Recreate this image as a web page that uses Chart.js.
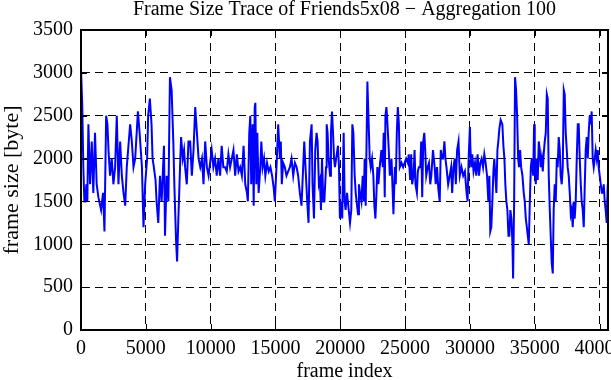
<!DOCTYPE html>
<html lang="en">
<head>
    <meta charset="UTF-8">
    <title>Frame Size Trace of Friends5x08</title>
    <script src="https://cdn.jsdelivr.net/npm/chart.js"></script>
    <style>
        html, body { margin: 0; padding: 0; background: #fff; }
        #wrap { width: 611px; height: 380px; }
    </style>
</head>
<body>
<div id="wrap"><canvas id="traceChart" width="611" height="380"></canvas></div>
<script>
    // [frame index, frame size in byte], one list per 5000 frames
    var seg0 = [[0,3050],[100,2600],[180,1900],[260,1500],[340,1500],[410,1700],[490,1500],[570,2400],[700,1700],[830,2200],[950,1600],[1080,2300],[1210,1700],[1340,1550],[1550,1400],[1700,1600],[1810,1150],[1940,2500],[2040,2400],[2120,2100],[2240,1800],[2370,2000],[2500,1700],[2630,1900],[2760,2500],[2890,1700],[3020,2200],[3150,1800],[3280,1600],[3410,1450],[3530,1900],[3660,2150],[3790,2400],[3920,2200],[4050,1900],[4180,2000],[4390,2550],[4520,2300],[4700,1900],[4820,1200],[4950,1700]];
    var seg1 = [[5100,2000],[5180,2500],[5310,2700],[5440,2400],[5520,2000],[5620,1900],[5750,1750],[5830,1500],[5960,1250],[6090,1800],[6220,1500],[6400,2150],[6480,1100],[6610,1800],[6740,1500],[6860,2950],[6990,2800],[7120,2200],[7200,1700],[7330,1050],[7410,800],[7510,1300],[7640,1900],[7720,2250],[7850,2000],[7950,2100],[8030,1900],[8160,1700],[8290,2200],[8420,2200],[8550,1800],[8680,2100],[8810,2600],[8940,2300],[9070,2000],[9200,1900],[9330,2000],[9450,1700],[9580,2200],[9710,1900],[9840,1800]];
    var seg2 = [[10080,2100],[10210,1900],[10340,2000],[10470,1800],[10600,2000],[10730,1800],[10850,2150],[10980,1900],[11110,1900],[11240,1850],[11370,2050],[11500,1900],[11630,2000],[11760,2100],[11890,1800],[12020,2050],[12150,1850],[12280,1900],[12410,1800],[12540,2150],[12670,1700],[12800,1600],[12870,1500],[12980,2300],[13060,2500],[13130,1700],[13240,2400],[13320,1450],[13400,2600],[13450,2650],[13520,1700],[13600,2300],[13700,1600],[13830,1900],[13910,2200],[14010,1900],[14120,2000],[14220,1800],[14350,1950],[14480,1850],[14610,1900],[14740,1800],[14870,1650],[14950,1500]];
    var seg3 = [[15080,1900],[15210,2400],[15340,2000],[15410,2200],[15490,1700],[15590,1950],[15720,1900],[15850,1800],[15980,1850],[16110,1900],[16240,2000],[16370,1800],[16500,1950],[16630,1900],[16750,1800],[16880,1600],[17010,1450],[17220,2200],[17350,1800],[17450,1500],[17550,1250],[17660,2200],[17790,2400],[17860,1700],[17970,1300],[18070,2100],[18170,2300],[18250,2200],[18350,1700],[18430,1750],[18510,1400],[18590,2000],[18690,1500],[18770,1500],[18900,1900],[18950,2400],[19020,2300],[19100,2000],[19210,1800],[19280,2300],[19360,2550],[19440,2300],[19520,2000],[19590,1900]];
    var seg4 = [[19820,2150],[19900,1900],[19970,1300],[20080,1500],[20150,1300],[20260,2300],[20340,1500],[20410,1400],[20520,1600],[20650,1400],[20750,1250],[20850,1400],[20930,2400],[21010,2300],[21110,1800],[21190,1600],[21260,1500],[21370,1350],[21440,1700],[21520,1600],[21630,1500],[21730,1800],[21810,1500],[21880,2000],[21960,1450],[22090,2900],[22190,2400],[22270,2000],[22350,1900],[22450,2000],[22550,1800],[22630,1450],[22710,1300],[22790,1600],[22860,1900],[22940,1700],[23040,1900],[23170,2100],[23280,1900],[23350,2300],[23430,1550],[23480,2500],[23560,2600],[23640,2400],[23740,2100],[23820,1800],[23950,2000],[24020,1700],[24100,1350],[24210,1900],[24280,1700],[24360,2300],[24440,2600],[24520,2400],[24590,1900],[24720,1950],[24850,1900]];
    var seg5 = [[25080,2000],[25210,1950],[25280,2050],[25390,1750],[25470,2050],[25540,1700],[25650,1800],[25730,2100],[25800,1700],[25910,1600],[25980,1850],[26060,1900],[26170,1900],[26240,2200],[26320,1550],[26400,2200],[26480,2300],[26550,2100],[26630,1800],[26740,1900],[26840,1950],[26940,1700],[27020,1800],[27150,2100],[27280,1900],[27360,1700],[27460,1900],[27560,1650],[27670,1500],[27750,2100],[27850,2000],[27930,2000],[28030,2200],[28110,2000],[28190,1900],[28320,1700],[28440,1800],[28550,1900],[28630,1600],[28730,1900],[28830,2000],[28910,1700],[29010,2100],[29120,2200],[29220,1800],[29350,1900],[29480,1800],[29610,1850],[29740,1600],[29820,1500],[29900,2000],[30000,2370]];
    var seg6 = [[30030,2150],[30100,1900],[30180,2050],[30280,1850],[30390,1950],[30490,1800],[30590,2050],[30700,1800],[30800,1950],[30900,2000],[31010,1900],[31110,2050],[31210,1950],[31320,1800],[31420,1500],[31500,1800],[31570,1150],[31650,1200],[31730,1500],[31810,1850],[31880,2000],[31960,1800],[32040,1600],[32120,2100],[32190,2200],[32270,2350],[32370,2450],[32500,2400],[32580,2150],[32660,2000],[32730,1700],[32810,1500],[32890,1400],[32970,1100],[33040,1100],[33120,1400],[33200,1300],[33280,1000],[33330,600],[33410,1500],[33480,2950],[33560,2800],[33640,2500],[33720,2000],[33790,1900],[33870,2100],[33950,1900],[34050,1800],[34150,1600],[34230,1500],[34310,1300],[34390,1200],[34460,1100],[34540,1000],[34620,1500],[34700,1900],[34770,2000],[34880,1800],[34950,2400]];
    var seg7 = [[35000,1900],[35080,1700],[35150,2000],[35230,1750],[35310,2200],[35390,2100],[35460,1900],[35540,2000],[35620,1850],[35690,2050],[35770,2200],[35850,2300],[35930,2750],[36000,2700],[36080,1800],[36160,1400],[36230,1100],[36310,780],[36390,660],[36460,1400],[36540,1700],[36620,1500],[36700,2000],[36770,1900],[36850,2250],[36930,2100],[37000,1800],[37080,1700],[37160,1900],[37240,2800],[37310,2750],[37390,2300],[37470,2100],[37540,1900],[37620,1800],[37700,1600],[37780,1350],[37850,1400],[37930,1200],[38010,1500],[38080,1300],[38160,1500],[38240,2000],[38320,2400],[38390,2400],[38470,2000],[38550,1700],[38620,1500],[38700,1400],[38780,1200],[38860,1700],[38930,2100],[39010,2250],[39090,2000],[39160,2300],[39240,2500],[39320,2400],[39390,2550],[39470,2000],[39550,1900],[39630,2000],[39700,2100],[39780,2000],[39860,2100],[39930,1900],[40010,1800],[40090,1700],[40170,1600],[40240,1600],[40320,1700],[40400,1500],[40470,1400],[40550,1250],[40630,1700]];

    var xMax = 40650;
    var xTicks = [0, 5000, 10000, 15000, 20000, 25000, 30000, 35000, 40000];
    var yTicks = [0, 500, 1000, 1500, 2000, 2500, 3000, 3500];

    var trace = [].concat(seg0, seg1, seg2, seg3, seg4, seg5, seg6, seg7)
        .map(function (p) { return { x: p[0], y: p[1] }; });

    var serif = 'Liberation Serif, Times New Roman, serif';

    function fixedTicks(list) {
        return function (s) { s.ticks = list.map(function (v) { return { value: v }; }); };
    }

    var ctx = document.getElementById('traceChart').getContext('2d');
    var traceChart = new Chart(ctx, {
        type: 'line',
        data: {
            datasets: [{
                data: trace,
                borderColor: '#0000ff',
                borderWidth: 2,
                pointRadius: 0,
                tension: 0,
                fill: false
            }]
        },
        options: {
            responsive: false,
            animation: false,
            layout: { padding: { left: 0, right: 3, top: 0, bottom: 0 } },
            plugins: {
                legend: { display: false },
                tooltip: { enabled: false },
                title: {
                    display: true,
                    fullSize: false,
                    text: 'Frame Size Trace of Friends5x08 \u2212 Aggregation 100',
                    color: '#000',
                    font: { family: serif, size: 20, weight: 'normal', lineHeight: 1 },
                    padding: { top: 0, bottom: 10 }
                }
            },
            scales: {
                x: {
                    type: 'linear',
                    min: 0,
                    max: xMax,
                    grid: { color: '#000', lineWidth: 1, drawTicks: false },
                    border: { color: '#000', width: 2, dash: [8, 5] },
                    afterBuildTicks: fixedTicks(xTicks),
                    ticks: {
                        maxRotation: 0,
                        autoSkip: false,
                        padding: 7,
                        color: '#000',
                        font: { family: serif, size: 20 },
                        callback: function (v) { return String(v); }
                    },
                    title: {
                        display: true,
                        text: 'frame index',
                        color: '#000',
                        font: { family: serif, size: 20, lineHeight: 1 },
                        padding: { top: 0, bottom: -2 }
                    },
                    afterFit: function (s) { s.height = 50; s.paddingLeft = 0; s.paddingRight = 0; }
                },
                y: {
                    min: yTicks[0],
                    max: yTicks[yTicks.length - 1],
                    grid: { color: '#000', lineWidth: 1, drawTicks: false },
                    border: { color: '#000', width: 2, dash: [8, 5] },
                    afterBuildTicks: fixedTicks(yTicks),
                    ticks: {
                        padding: 8,
                        color: '#000',
                        font: { family: serif, size: 20 },
                        callback: function (v) { return String(v); }
                    },
                    title: {
                        display: true,
                        text: 'frame size [byte]',
                        color: '#000',
                        font: { family: serif, size: 22, lineHeight: 1 },
                        padding: { top: 1, bottom: 0 }
                    },
                    afterFit: function (s) { s.width = 81; }
                }
            }
        },
        plugins: [{
            id: 'frameBox',
            afterDraw: function (chart) {
                var a = chart.chartArea, c = chart.ctx;
                var xs = chart.scales.x, ys = chart.scales.y;
                c.save();
                c.strokeStyle = '#000';
                c.lineWidth = 2;
                c.setLineDash([]);
                c.strokeRect(a.left, a.top, a.right - a.left, a.bottom - a.top);
                c.lineWidth = 1;
                c.beginPath();
                xs.ticks.forEach(function (t) {
                    var px = Math.round(xs.getPixelForValue(t.value)) + 0.5;
                    c.moveTo(px, a.top); c.lineTo(px, a.top + 6);
                    c.moveTo(px, a.bottom); c.lineTo(px, a.bottom - 6);
                });
                ys.ticks.forEach(function (t) {
                    var py = Math.round(ys.getPixelForValue(t.value)) + 0.5;
                    c.moveTo(a.left, py); c.lineTo(a.left + 6, py);
                    c.moveTo(a.right, py); c.lineTo(a.right - 6, py);
                });
                c.stroke();
                c.restore();
            }
        }]
    });
</script>
</body>
</html>
